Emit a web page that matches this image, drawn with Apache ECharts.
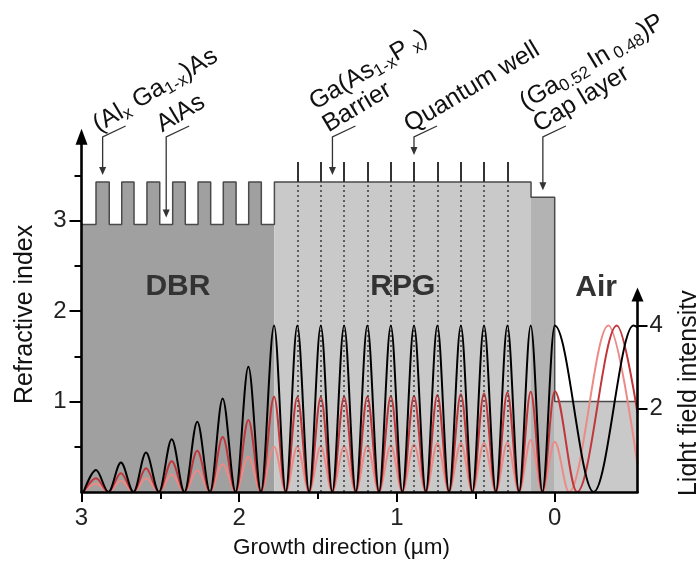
<!DOCTYPE html>
<html>
<head>
<meta charset="utf-8">
<script src="https://cdn.jsdelivr.net/npm/echarts@6/dist/echarts.min.js"></script>
<style>
  html, body { margin: 0; padding: 0; background: #ffffff; }
  #chart { width: 696px; height: 563px; }
</style>
</head>
<body>
<div id="chart"></div>
<script>
// ---- axes (growth direction in µm, 0 = sample surface) ----
const xRange = [-0.525, 3.0];
const xTickLabels = [0, 1, 2, 3];
const xMinorTicks = [0.5, 1.5, 2.5];
const indexRange = [0, 3.93];
const indexTickLabels = [1, 2, 3];
const indexMinorTicks = [0.5, 1.5, 2.5, 3.5];
const intensityRange = [0, 4.75];
const intensityTickLabels = [2, 4];

// ---- refractive index profile ----
const nLow = 2.96;      // AlAs
const nHigh = 3.43;     // (AlGa)As, barrier
const nCap = 3.26;      // (GaIn)P cap
const nAir = 1.0;
const dbrLayerStart = [3.0, 2.908, 2.824, 2.745, 2.667, 2.585, 2.504, 2.422,
                       2.342, 2.261, 2.181, 2.101, 2.020, 1.940, 1.860];
const dbrLayerIndex = [2.96, 3.43, 2.96, 3.43, 2.96, 3.43, 2.96, 3.43,
                       2.96, 3.43, 2.96, 3.43, 2.96, 3.43, 2.96];
const rpgStart = 1.777;
const capStart = 0.150;
const surface = 0.0;
const airEnd = -0.525;

// quantum well positions inside the RPG
const qwPositions = [1.632, 1.483, 1.335, 1.188, 1.039, 0.892, 0.744, 0.595, 0.448, 0.300];
const qwMarkTop = 3.65;

// ---- light field intensity ----
// node / antinode positions inside the structure (node, antinode, node, ...)
const fieldX = [2.987, 2.908, 2.829, 2.750, 2.670, 2.591, 2.509, 2.428, 2.347, 2.266,
                2.185, 2.105, 2.023, 1.942, 1.862, 1.779, 1.705, 1.632, 1.557, 1.483,
                1.410, 1.335, 1.261, 1.188, 1.114, 1.039, 0.966, 0.892, 0.817, 0.744,
                0.670, 0.595, 0.522, 0.448, 0.373, 0.300, 0.226, 0.152, 0.078, 0.000];
// antinode heights
const blackPeaks = [0.53, 0.71, 0.95, 1.27, 1.69, 2.25, 3.01, 4.0, 4.0, 4.0,
                    4.0, 4.0, 4.0, 4.0, 4.0, 4.0, 4.0, 4.0, 4.0, 4.0];
const darkRedPeaks = [0.33, 0.45, 0.57, 0.74, 0.99, 1.32, 1.73, 2.29, 2.28, 2.28,
                      2.29, 2.29, 2.30, 2.31, 2.33, 2.35, 2.37, 2.39, 2.41, 2.42];
const pinkPeaks = [0.20, 0.27, 0.33, 0.42, 0.52, 0.67, 0.85, 1.09, 1.09, 1.10,
                   1.10, 1.11, 1.12, 1.14, 1.17, 1.18, 1.18, 1.19, 1.25, 1.21];
// field in air
const blackAirX = [-0.247, -0.499, -0.525];
const blackAirY = [0, 4.0, 3.96];
const darkRedAirX = [-0.142, -0.394, -0.525];
const darkRedAirY = [0, 4.0, 1.9];
const pinkAirX = [-0.091, -0.340, -0.525];
const pinkAirY = [0, 4.0, 0.65];

const FONT = 'Liberation Sans, Arial, Helvetica, sans-serif';
const INK = '#111111';

function fieldSeriesData(peaks, airX, airY) {
  const pts = fieldX.map((x, i) => [x, i % 2 === 0 ? 0 : peaks[(i - 1) / 2]]);
  airX.forEach((x, i) => pts.push([x, airY[i]]));
  return pts;
}

// step profiles (each point starts a layer)
const dbrData = dbrLayerStart.map((x, i) => [x, dbrLayerIndex[i]])
  .concat([[rpgStart, dbrLayerIndex[dbrLayerIndex.length - 1]]]);
const rpgData = [[rpgStart, nHigh], [capStart, nHigh]];
const capData = [[capStart, nCap], [surface, nCap]];
const airData = [[surface, nAir], [airEnd, nAir]];
const outlineData = dbrLayerStart.map((x, i) => [x, dbrLayerIndex[i]])
  .concat([[rpgStart, nHigh], [capStart, nCap], [surface, nAir], [airEnd, nAir]]);

function areaSeries(data, color) {
  return {
    type: 'line', xAxisIndex: 0, yAxisIndex: 0, data, step: 'end',
    symbol: 'none', silent: true, z: 1,
    lineStyle: { width: 0 },
    areaStyle: { color, opacity: 1 }
  };
}

function fieldSeries(data, color, z) {
  return {
    type: 'line', xAxisIndex: 2, yAxisIndex: 2, data,
    smooth: 0.34, smoothMonotone: 'x',
    symbol: 'none', silent: true, z,
    lineStyle: { color, width: 2 }
  };
}

const axisLineStyle = { color: '#000', width: 2.6 };
const tickStyle = { color: '#000', width: 2 };
const labelStyle = { fontFamily: FONT, fontSize: 24, color: '#222' };

const option = {
  animation: false,
  backgroundColor: '#ffffff',
  grid: [
    { left: 81.5, right: 58.5, bottom: 71, top: 492 - 3.93 * 90.4,
      containLabel: false, outerBoundsMode: 'none' },
    { left: 81.5, right: 58.5, bottom: 71, top: 492 - 4.75 * 41.6,
      containLabel: false, outerBoundsMode: 'none' }
  ],
  xAxis: [
    {
      type: 'value', gridIndex: 0, min: xRange[0], max: xRange[1], inverse: true,
      position: 'bottom', z: 10,
      name: 'Growth direction (µm)', nameLocation: 'middle', nameGap: 44,
      nameTextStyle: { fontFamily: FONT, fontSize: 22.5, color: INK, padding: [0, 36, 0, 0] },
      axisLine: { onZero: false, lineStyle: axisLineStyle },
      axisTick: { customValues: xTickLabels, length: 10, lineStyle: tickStyle },
      axisLabel: { customValues: xTickLabels, margin: 14, ...labelStyle },
      splitLine: { show: false }
    },
    {
      type: 'value', gridIndex: 0, min: xRange[0], max: xRange[1], inverse: true,
      position: 'bottom', z: 10,
      axisLine: { show: false, onZero: false },
      axisTick: { customValues: xMinorTicks, length: 7, lineStyle: tickStyle },
      axisLabel: { show: false },
      splitLine: { show: false }
    },
    {
      type: 'value', gridIndex: 1, min: xRange[0], max: xRange[1], inverse: true,
      show: false
    }
  ],
  yAxis: [
    {
      type: 'value', gridIndex: 0, min: indexRange[0], max: indexRange[1], position: 'left', z: 10,
      name: 'Refractive index', nameLocation: 'middle', nameGap: 44, nameRotate: 90,
      nameTextStyle: { fontFamily: FONT, fontSize: 25, color: INK },
      axisLine: { onZero: false, lineStyle: axisLineStyle, symbol: ['none', 'triangle'], symbolSize: [12, 16] },
      axisTick: { customValues: indexTickLabels, length: 12, lineStyle: tickStyle },
      axisLabel: { customValues: indexTickLabels, margin: 15, ...labelStyle },
      splitLine: { show: false }
    },
    {
      type: 'value', gridIndex: 0, min: indexRange[0], max: indexRange[1], position: 'left', z: 10,
      axisLine: { show: false, onZero: false },
      axisTick: { customValues: indexMinorTicks, length: 7, lineStyle: tickStyle },
      axisLabel: { show: false },
      splitLine: { show: false }
    },
    {
      type: 'value', gridIndex: 1, min: intensityRange[0], max: intensityRange[1], position: 'right', z: 10,
      name: 'Light field intensity', nameLocation: 'middle', nameGap: 39, nameRotate: 90,
      nameTextStyle: { fontFamily: FONT, fontSize: 25, color: INK },
      axisLine: { onZero: false, lineStyle: axisLineStyle, symbol: ['none', 'triangle'], symbolSize: [12, 14] },
      axisTick: { customValues: intensityTickLabels, length: 10, lineStyle: tickStyle },
      axisLabel: { customValues: intensityTickLabels, margin: 12, ...labelStyle },
      splitLine: { show: false }
    }
  ],
  series: [
    areaSeries(dbrData, '#a0a0a0'),
    areaSeries(rpgData, '#c9c9c9'),
    areaSeries(capData, '#b3b3b3'),
    areaSeries(airData, '#c9c9c9'),
    {
      // layer outline with quantum well marks
      type: 'line', xAxisIndex: 0, yAxisIndex: 0, data: outlineData, step: 'end',
      symbol: 'none', silent: true, z: 2,
      lineStyle: { color: '#4a4a4a', width: 1.5 },
      markLine: {
        silent: true, symbol: ['none', 'none'], label: { show: false },
        animation: false,
        data: qwPositions.map(x => [
          { coord: [x, nHigh], lineStyle: { color: '#333', width: 2, type: 'solid' } },
          { coord: [x, qwMarkTop] }
        ])
      }
    },
    fieldSeries(fieldSeriesData(pinkPeaks, pinkAirX, pinkAirY), '#ec8a86', 3),
    fieldSeries(fieldSeriesData(darkRedPeaks, darkRedAirX, darkRedAirY), '#c0363a', 4),
    fieldSeries(fieldSeriesData(blackPeaks, blackAirX, blackAirY), '#000000', 5),
    {
      // quantum well positions through the RPG
      type: 'line', xAxisIndex: 0, yAxisIndex: 0, data: [], z: 6, silent: true,
      markLine: {
        silent: true, symbol: ['none', 'none'], label: { show: false },
        animation: false,
        lineStyle: { color: '#444', width: 1.6, type: [2, 3] },
        data: qwPositions.map(x => [{ coord: [x, 0] }, { coord: [x, nHigh] }])
      }
    }
  ]
};

const chart = echarts.init(document.getElementById('chart'), null, { renderer: 'canvas' });
chart.setOption(option);

// ---- annotations ----
const toPx = (x, y) => chart.convertToPixel({ xAxisIndex: 0, yAxisIndex: 0 }, [x, y]);
const rich = {
  n: { fontFamily: FONT, fontSize: 25, lineHeight: 27, verticalAlign: 'top', fill: INK, color: INK },
  s: { fontFamily: FONT, fontSize: 17, lineHeight: 19, verticalAlign: 'bottom', fill: INK, color: INK }
};
const annotations = [
  { target: [(dbrLayerStart[1] + dbrLayerStart[2]) / 2, nHigh], lines: ['{n|(Al}{s|x}{n| Ga}{s|1-x}{n|)As}'] },
  { target: [(dbrLayerStart[6] + dbrLayerStart[7]) / 2, nLow], lines: ['{n|AlAs}'] },
  { target: [(qwPositions[1] + qwPositions[2]) / 2, nHigh], lines: ['{n|Ga(As}{s|1-x}{n|P}{s| x}{n|)}', '{n|Barrier}'] },
  { target: [qwPositions[5], qwMarkTop], lines: ['{n|Quantum well}'] },
  { target: [(capStart + surface) / 2, nCap], lines: ['{n|(Ga}{s|0.52 }{n|In}{s| 0.48}{n|)P}', '{n|Cap layer}'] }
];
const angle = 31 * Math.PI / 180;
const lineGap = 26;
const graphics = [];
annotations.forEach(a => {
  const p = toPx(a.target[0], a.target[1]);
  const ax = p[0];
  const tip = p[1] - 7;
  const top = 137;
  graphics.push({
    type: 'polyline', silent: true, z: 20,
    shape: { points: [[ax + 23, top - 11], [ax, top], [ax, tip - 7]] },
    style: { stroke: '#333', lineWidth: 1.3, fill: null }
  });
  graphics.push({
    type: 'polygon', silent: true, z: 20,
    shape: { points: [[ax - 3.5, tip - 8], [ax + 3.5, tip - 8], [ax, tip]] },
    style: { fill: '#333' }
  });
  const n = a.lines.length;
  a.lines.forEach((txt, i) => {
    const k = n - 1 - i; // 0 for the lowest line
    graphics.push({
      type: 'text', silent: true, z: 20,
      x: ax - lineGap * Math.sin(angle) * k,
      y: 139 - lineGap * Math.cos(angle) * k,
      rotation: angle,
      style: { text: txt, rich, fill: INK, align: 'left', verticalAlign: 'bottom' }
    });
  });
});

// region names
const regionLabels = [
  { text: 'DBR', at: [(dbrLayerStart[0] + rpgStart) / 2, 2.27] },
  { text: 'RPG', at: [(rpgStart + capStart) / 2, 2.27] },
  { text: 'Air', at: [(surface + airEnd) / 2, 2.26] }
];
regionLabels.forEach(r => {
  const p = toPx(r.at[0], r.at[1]);
  graphics.push({
    type: 'text', silent: true, z: 20, x: p[0], y: p[1],
    style: { text: r.text, fontFamily: FONT, fontSize: 30, fontWeight: 'bold', fill: '#333',
             align: 'center', verticalAlign: 'middle' }
  });
});

chart.setOption({ graphic: graphics });
</script>
</body>
</html>
